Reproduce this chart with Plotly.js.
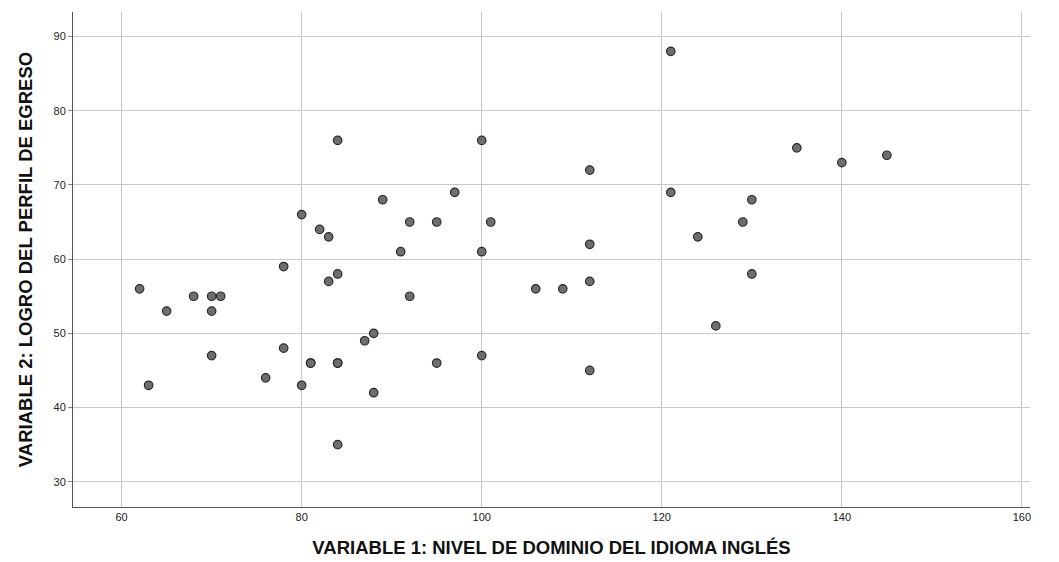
<!DOCTYPE html>
<html>
<head>
<meta charset="utf-8">
<script src="https://cdn.plot.ly/plotly-3.0.1.min.js"></script>
<style>html,body{margin:0;padding:0;background:#fff;}#chart{width:1059px;height:562px;}</style>
</head>
<body>
<div id="chart"></div>
<script>
// VARIABLE 1: Nivel de dominio del idioma inglés
var nivelIngles = [62, 63, 65, 68, 70, 70, 70, 71, 76, 78, 78, 80, 80, 81, 81, 82, 83, 83,
  84, 84, 84, 84, 84, 87, 88, 88, 89, 91, 92, 92, 95, 95, 97, 100, 100, 100, 101,
  106, 109, 112, 112, 112, 112, 121, 121, 124, 126, 129, 130, 130, 135, 140, 145];
// VARIABLE 2: Logro del perfil de egreso
var logroPerfil = [56, 43, 53, 55, 55, 53, 47, 55, 44, 59, 48, 66, 43, 46, 46, 64, 63, 57,
  76, 58, 46, 46, 35, 49, 50, 42, 68, 61, 65, 55, 65, 46, 69, 76, 61, 47, 65,
  56, 56, 72, 62, 57, 45, 88, 69, 63, 51, 65, 68, 58, 75, 73, 74];

var xTicks = [60, 80, 100, 120, 140, 160];
var yTicks = [30, 40, 50, 60, 70, 80, 90];

var trace = {
  x: nivelIngles,
  y: logroPerfil,
  type: 'scatter',
  mode: 'markers',
  marker: {size: 8.5, color: '#6e6e6e', line: {color: '#2a2a2a', width: 1.2}},
  hoverinfo: 'x+y'
};

var titleFont = {size: 18.5, color: '#111111', family: 'Liberation Sans, Arial, sans-serif', weight: 'bold'};

var layout = {
  width: 1059, height: 562,
  margin: {l: 73, r: 29, t: 12, b: 55},
  paper_bgcolor: '#ffffff', plot_bgcolor: '#ffffff',
  showlegend: false,
  font: {family: 'Liberation Sans, Arial, sans-serif', color: '#222222', size: 11},
  xaxis: {
    range: [54.6, 160.9],
    tickvals: xTicks,
    ticktext: xTicks.map(String),
    showgrid: true, gridcolor: '#c8c8c8', gridwidth: 1,
    zeroline: false,
    showline: true, linecolor: '#555555', linewidth: 1,
    ticks: '', ticklen: 0,
    tickfont: {size: 11, color: '#222222'},
    title: {text: 'VARIABLE 1: NIVEL DE DOMINIO DEL IDIOMA INGLÉS', standoff: 18, font: titleFont}
  },
  yaxis: {
    range: [26.6, 93.3],
    tickvals: yTicks,
    ticktext: yTicks.map(String),
    showgrid: true, gridcolor: '#c8c8c8', gridwidth: 1,
    zeroline: false,
    showline: true, linecolor: '#555555', linewidth: 1,
    ticks: 'outside', ticklen: 4, tickcolor: '#888888',
    tickfont: {size: 11, color: '#222222'},
    title: {text: 'VARIABLE 2: LOGRO DEL PERFIL DE EGRESO', standoff: 16, font: titleFont}
  }
};

Plotly.newPlot('chart', [trace], layout, {displayModeBar: false, staticPlot: true});
</script>
</body>
</html>
